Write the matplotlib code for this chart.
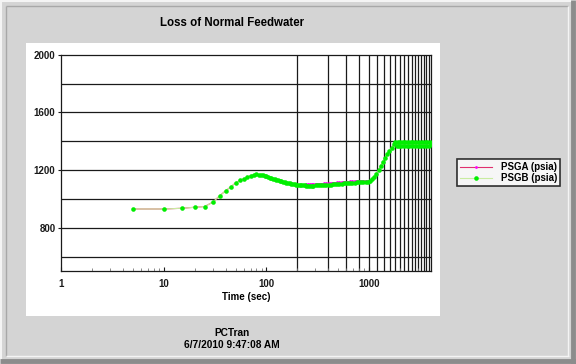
import matplotlib
matplotlib.use("Agg")
import matplotlib.pyplot as plt
from matplotlib.patches import Rectangle
from matplotlib.lines import Line2D

plt.rcParams['font.family'] = ['Liberation Sans', 'DejaVu Sans']

# ---------------- data ----------------
title = "Loss of Normal Feedwater"
series_names = ["PSGA (psia)", "PSGB (psia)"]
x_label = "Time (sec)"
footer_1 = "PCTran"
footer_2 = "6/7/2010 9:47:08 AM"

time_s = [5, 10, 15, 20, 25, 30, 35, 40, 45, 50, 55, 60, 65, 70, 75,
          80, 84, 88, 92, 96, 100, 104, 108, 112, 116, 120, 125, 130, 135, 140,
          145, 150, 156, 162, 168, 175, 182, 189, 196, 203, 210, 218, 226, 235,
          244, 253, 264, 276, 287, 301, 316, 332,
          349, 366, 384, 403, 423, 444, 466, 489, 513, 539, 566, 594, 624, 655,
          688, 722, 758, 796, 836, 878, 922, 968, 1016, 1067, 1120, 1176, 1235,
          1297, 1362, 1430, 1501, 1576, 1655, 1738, 1800,
          1850, 1900, 1950, 2000, 2060, 2120, 2180, 2250, 2320, 2390, 2460, 2540,
          2620, 2700, 2780, 2870, 2960, 3050, 3150, 3250, 3350, 3460, 3570, 3680,
          3800, 3920, 4000]

psgb = [930, 930, 935, 942, 947, 977, 1021, 1056, 1083, 1111, 1128, 1139, 1149, 1162, 1167,
        1170, 1169, 1167, 1164, 1160, 1157, 1153, 1148, 1144, 1140, 1136, 1132, 1128, 1124, 1121,
        1118, 1115, 1112, 1110, 1107, 1105, 1103, 1101, 1099, 1097, 1096, 1095, 1094, 1093,
        1092, 1092, 1092, 1092, 1092, 1093, 1093, 1094,
        1095, 1096, 1097, 1098, 1099, 1100, 1102, 1103, 1105, 1106, 1108, 1109, 1110, 1111,
        1112, 1113, 1114, 1115, 1116, 1117, 1118, 1120, 1124, 1138, 1155, 1175, 1200,
        1230, 1258, 1285, 1310, 1333, 1356, 1380, 1398,
        1366, 1396, 1366, 1396, 1366, 1396, 1366, 1396, 1366, 1396, 1366, 1396,
        1366, 1396, 1366, 1396, 1366, 1396, 1366, 1396, 1366, 1396, 1366, 1396,
        1366, 1396, 1380]

psga = [930, 930, 935, 942, 947, 977, 1021, 1056, 1083, 1111, 1128, 1139, 1149, 1162, 1167,
        1170, 1169, 1167, 1164, 1160, 1157, 1153, 1148, 1144, 1140, 1136, 1132, 1128, 1124, 1121,
        1118, 1115, 1112, 1110, 1107, 1105, 1103, 1101, 1099, 1097, 1097, 1097, 1098, 1099,
        1100, 1101, 1102, 1103, 1103, 1104, 1104, 1105,
        1106, 1107, 1108, 1109, 1110, 1111, 1113, 1114, 1115, 1116, 1118, 1119, 1120, 1121,
        1122, 1123, 1123, 1124, 1124, 1124, 1124, 1125, 1127, 1139, 1155, 1175, 1200,
        1230, 1258, 1285, 1310, 1333, 1356, 1380, 1392,
        1384, 1384, 1385, 1385, 1384, 1384, 1385, 1385, 1384, 1384, 1384, 1384,
        1368, 1384, 1385, 1385, 1384, 1384, 1385, 1385, 1384, 1384, 1385, 1385,
        1384, 1384, 1384]

x_ticks = [1, 10, 100, 1000]
x_ticklabels = ["1", "10", "100", "1000"]
y_ticks = [800, 1200, 1600, 2000]
y_grid = [600, 800, 1000, 1200, 1400, 1600, 1800]
x_grid = list(range(200, 4000, 200))
x_range = (1, 4000)
y_range = (500, 2000)

# ---------------- layout ----------------
W, H = 576, 364
fig = plt.figure(figsize=(W / 100, H / 100), dpi=100)
BG = '#d4d4d4'
fig.patch.set_facecolor(BG)

def fx(px):
    return px / W

def fy(py):
    return 1 - py / H

def hline(y, x0, x1, color, lw=1.0):
    fig.add_artist(Line2D([fx(x0), fx(x1)], [fy(y), fy(y)], color=color, lw=lw,
                          transform=fig.transFigure, solid_capstyle='butt'))

def vline(x, y0, y1, color, lw=1.0):
    fig.add_artist(Line2D([fx(x), fx(x)], [fy(y0), fy(y1)], color=color, lw=lw,
                          transform=fig.transFigure, solid_capstyle='butt'))

# window frame (3D look)
hline(1, 0, 576, '#f4f4f4', 1.5)
vline(1, 0, 364, '#f4f4f4', 1.5)
hline(6, 6, 568, '#a8a8a8', 1.0)
vline(6, 6, 356, '#a8a8a8', 1.0)
hline(356, 6, 569, '#f4f4f4', 1.0)
vline(568, 6, 356, '#f4f4f4', 1.0)
hline(361, 0, 576, '#8c8c8c', 3.5)
vline(573, 0, 364, '#8c8c8c', 3.5)

# white plot panel
fig.add_artist(Rectangle((fx(26), fy(316)), fx(440) - fx(26), fy(43) - fy(316),
                         transform=fig.transFigure, facecolor='white', edgecolor='none', zorder=0))

ax = fig.add_axes([fx(61), fy(271), fx(431) - fx(61), fy(54.7) - fy(271)])
ax.set_facecolor('white')
ax.set_xscale('log')
ax.set_xlim(*x_range)
ax.set_ylim(*y_range)

for g in y_grid:
    ax.axhline(g, color='#1a1a1a', lw=0.9, zorder=1)
for g in x_grid:
    ax.axvline(g, color='#1a1a1a', lw=0.9, zorder=1)

for sp in ax.spines.values():
    sp.set_color('#1a1a1a')
    sp.set_linewidth(0.9)

ax.plot(time_s, psga, color='#e0306e', lw=0.8, marker='o', ms=2.0,
        mfc='#ff00ff', mec='#ff00ff', mew=0, label=series_names[0], zorder=3)
ax.plot(time_s, psgb, color='#c8eca0', lw=0.8, marker='o', ms=3.3,
        mfc='#00ee00', mec='#00ee00', mew=0, label=series_names[1], zorder=4)

tick_font = dict(fontsize=7, fontweight='bold')
ax.set_xticks(x_ticks)
ax.set_xticklabels(x_ticklabels, **tick_font)
ax.set_yticks(y_ticks)
ax.set_yticklabels([str(v) for v in y_ticks], **tick_font)
ax.tick_params(axis='x', which='major', direction='in', length=3, width=0.8, pad=6, colors='#1a1a1a')
ax.tick_params(axis='x', which='minor', direction='in', length=2, width=0.6, colors='#777777')
ax.tick_params(axis='y', which='major', direction='out', length=2, width=0.8, pad=2, colors='#1a1a1a')
ax.tick_params(axis='y', which='minor', length=0)
ax.set_xlabel(x_label, fontsize=7, fontweight='bold', labelpad=2)

# title and footer
fig.text(fx(232), fy(23.5), title, ha='center', va='center', fontsize=8.3, fontweight='bold')
fig.text(fx(232), fy(333), footer_1, ha='center', va='center', fontsize=7.3, fontweight='bold')
fig.text(fx(232), fy(344.5), footer_2, ha='center', va='center', fontsize=7.3, fontweight='bold')

# legend
leg = fig.legend(loc='upper left', bbox_to_anchor=(fx(457), fy(159)),
                 bbox_transform=fig.transFigure, borderaxespad=0,
                 frameon=True, fancybox=False, numpoints=1,
                 prop=dict(size=7, weight='bold'), handlelength=3.3,
                 handletextpad=0.9, labelspacing=0.15, borderpad=0.3)
leg.get_frame().set_edgecolor('black')
leg.get_frame().set_linewidth(1.2)
leg.get_frame().set_facecolor('white')

fig.savefig('out.png', dpi=100, facecolor=fig.get_facecolor())
